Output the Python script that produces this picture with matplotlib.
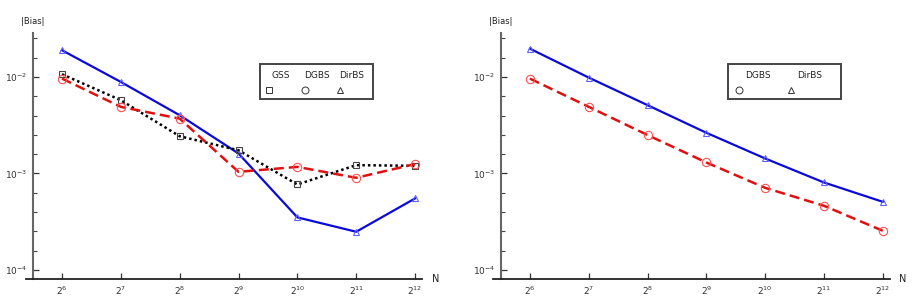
import numpy as np
import matplotlib.pyplot as plt
from matplotlib.patches import Rectangle

# data
exps = [6, 7, 8, 9, 10, 11, 12]
N = [2**e for e in exps]

gss_l   = [0.01066, 0.00574, 0.00243, 0.00174, 0.000769, 0.00122, 0.00120]
dgbs_l  = [0.00961, 0.00490, 0.00370, 0.00104, 0.00117, 0.000902, 0.00125]
dirbs_l = [0.0189, 0.00887, 0.00401, 0.00161, 0.000351, 0.000249, 0.000551]

dgbs_r  = [0.00960, 0.00490, 0.00250, 0.00130, 0.000710, 0.000463, 0.000255]
dirbs_r = [0.0196, 0.00984, 0.00510, 0.00264, 0.00143, 0.000807, 0.000509]

W, H = 917, 306
fig = plt.figure(figsize=(W/100, H/100), dpi=100)

def px(x0, y0):
    return x0/W, 1 - y0/H

def make_axes(x0, x1, yspine_x, xlo, xhi):
    ax = fig.add_axes([x0/W, 1-279/H, (x1-x0)/W, 246/H])
    ax.set_xscale('log', base=2)
    ax.set_yscale('log')
    ax.spines['top'].set_visible(False)
    ax.spines['right'].set_visible(False)
    ax.spines['left'].set_position(('axes', (yspine_x - x0)/(x1 - x0)))
    ax.spines['left'].set_linewidth(1.5)
    ax.spines['left'].set_color('#666666')
    ax.spines['bottom'].set_linewidth(1.3)
    ax.spines['bottom'].set_color('#222222')
    ax.set_xticks(N)
    ax.set_xticklabels([f'$2^{{{e}}}$' for e in exps])
    ax.xaxis.set_minor_locator(plt.NullLocator())
    ax.set_yticks([1e-4, 1e-3, 1e-2])
    ax.set_yticklabels(['$10^{-4}$', '$10^{-3}$', '$10^{-2}$'])
    minor = [10**(k + 0.2*j) for k in range(-4, -1) for j in range(1, 5)]
    ax.set_yticks(minor, minor=True)
    ax.yaxis.set_minor_formatter(plt.NullFormatter())
    ax.set_xlim(2**xlo, 2**xhi)
    ax.set_ylim(10**-4.093, 10**-1.545)
    ax.tick_params(which='major', direction='in', length=4, width=0.9, labelsize=6.5, pad=4,
                   color='#333333', labelcolor='#333333')
    ax.tick_params(which='minor', direction='in', length=3, width=0.8, color='#444444')
    return ax

ax1 = make_axes(26, 422, 33, 5.388, 12.119)
ax2 = make_axes(493, 890, 501, 5.371, 12.124)

ax1.plot(N, dirbs_l, '-', color='#0a0adc', lw=1.6, marker='^', ms=5, mfc='none', mec='#6060ff', mew=0.8)
ax1.plot(N, gss_l, color='black', lw=1.8, dashes=(1, 1.2), marker='s', ms=5, mfc='none', mec='#444444', mew=0.8)
ax1.plot(N, dgbs_l, '--', color='#e01010', lw=1.8, dashes=(4, 2), marker='o', ms=6, mfc='none', mec='#ff5050', mew=0.8)

ax2.plot(N, dirbs_r, '-', color='#0a0adc', lw=1.6, marker='^', ms=5, mfc='none', mec='#6060ff', mew=0.8)
ax2.plot(N, dgbs_r, '--', color='#e01010', lw=1.8, dashes=(4, 2), marker='o', ms=6, mfc='none', mec='#ff5050', mew=0.8)

# axis titles
for xb, xn in [(33, 436), (501, 903)]:
    fig.text(*px(xb, 21), '|Bias|', fontsize=6, ha='center', va='center', color='#222222')
    fig.text(*px(xn, 279), 'N', fontsize=7, ha='center', va='center', color='#222222')

# tecplot-like legends
leg_names_l = ['GSS', 'DGBS', 'DirBS']
leg_marks_l = ['s', 'o', '^']
leg_names_r = ['DGBS', 'DirBS']
leg_marks_r = ['o', '^']

def legend(box, names, marks, text_x, mark_x):
    x0, y0, x1, y1 = box
    fig.patches.append(Rectangle(px(x0, y1), (x1-x0)/W, (y1-y0)/H, transform=fig.transFigure,
                                 fill=False, ec='#444444', lw=1.4))
    for n, m, tx, mx in zip(names, marks, text_x, mark_x):
        fig.text(*px(tx, 76), n, fontsize=6.5, ha='center', va='center', color='#222222')
        fig.add_artist(plt.Line2D([mx/W], [1-90/H], marker=m, ms=5, mfc='none', mec='#333333', mew=0.7,
                                  transform=fig.transFigure))

legend((260, 64, 373, 99), leg_names_l, leg_marks_l, [281, 317, 352], [269, 305, 340])
legend((728, 64, 841, 99), leg_names_r, leg_marks_r, [758, 810], [739, 791])

fig.savefig('out.png', dpi=100)
